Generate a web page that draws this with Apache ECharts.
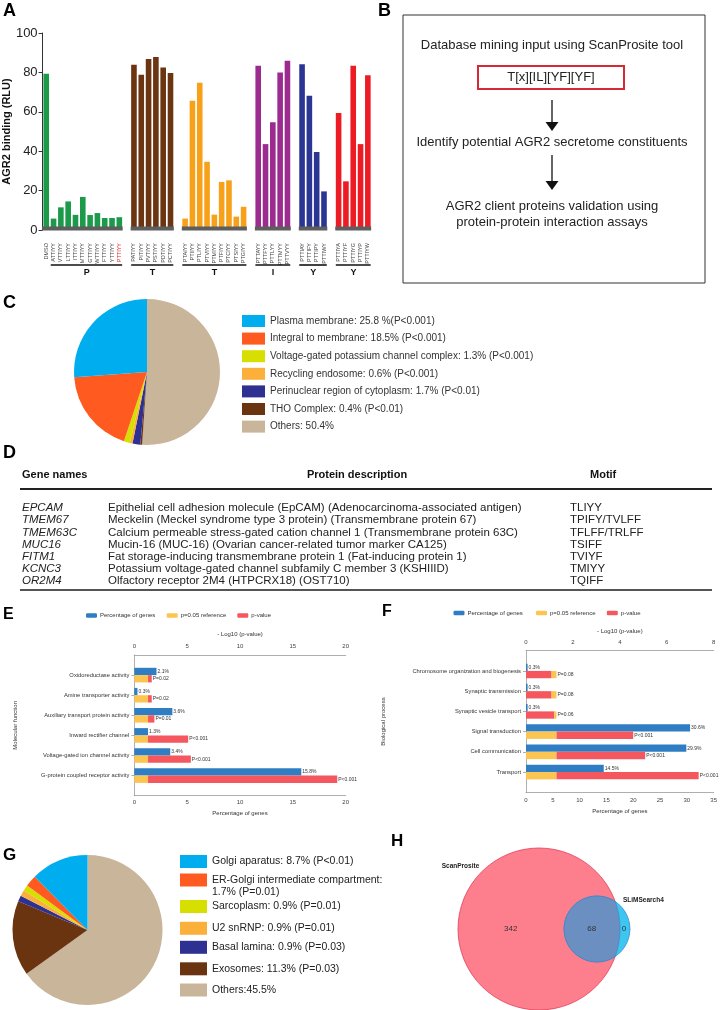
<!DOCTYPE html>
<html><head><meta charset="utf-8">
<script src="https://cdn.jsdelivr.net/npm/echarts@6/dist/echarts.min.js"></script>
<style>html,body{margin:0;padding:0;background:#fff}#c{width:720px;height:1010px}</style>
</head><body><div id="c"></div>
<script>
// ================= DATA =================
// Panel A
const aControlLabel = 'DMSO';
const aControlValue = 79.3;
const aGroupNames = ['P', 'T', 'T', 'I', 'Y', 'Y'];
const aGroupLabels = [
  ['ATTIYY','VTTIYY','LTTIYY','ITTIYY','MTTIYY','GTTIYY','WTTIYY','FTTIYY','YTTIYY','PTTIYY'],
  ['PATIYY','PITIYY','PVTIYY','PSTIYY','PDTIYY','PCTIYY'],
  ['PTAIYY','PTIIYY','PTLIYY','PTVIYY','PTMIYY','PTFIYY','PTCIYY','PTSIYY','PTGIYY'],
  ['PTTAYY','PTTFYY','PTTLYY','PTTMYY','PTTVYY'],
  ['PTTIAY','PTTIFY','PTTIPY','PTTIWY'],
  ['PTTIYA','PTTIYF','PTTIYG','PTTIYP','PTTIYW']
];
const aGroupValues = [
  [5.8, 11.5, 14.5, 7.7, 16.8, 7.6, 8.6, 6.1, 6.1, 6.5],
  [83.9, 78.8, 86.8, 87.8, 82.5, 79.7],
  [5.8, 65.6, 74.7, 34.6, 7.8, 24.4, 25.2, 6.8, 11.8],
  [83.4, 43.6, 54.7, 80.0, 85.9],
  [84.2, 68.1, 39.6, 19.6],
  [59.4, 24.7, 83.4, 43.6, 78.6]
];
const aHighlightLabel = 'PTTIYY';

// Panel C
const cLegend = ['Plasma membrane: 25.8 %(P<0.001)', 'Integral to membrane: 18.5% (P<0.001)',
  'Voltage-gated potassium channel complex: 1.3% (P<0.001)', 'Recycling endosome: 0.6% (P<0.001)',
  'Perinuclear region of cytoplasm: 1.7% (P<0.01)', 'THO Complex: 0.4% (P<0.01)', 'Others: 50.4%'];
const cValues = [25.8, 18.5, 1.3, 0.6, 1.7, 0.4, 50.4];

// Panel D
const dHeaders = ['Gene names', 'Protein description', 'Motif'];
const dGenes = ['EPCAM', 'TMEM67', 'TMEM63C', 'MUC16', 'FITM1', 'KCNC3', 'OR2M4'];
const dDescriptions = [
  'Epithelial cell adhesion molecule (EpCAM) (Adenocarcinoma-associated antigen)',
  'Meckelin (Meckel syndrome type 3 protein) (Transmembrane protein 67)',
  'Calcium permeable stress-gated cation channel 1 (Transmembrane protein 63C)',
  'Mucin-16 (MUC-16) (Ovarian cancer-related tumor marker CA125)',
  'Fat storage-inducing transmembrane protein 1 (Fat-inducing protein 1)',
  'Potassium voltage-gated channel subfamily C member 3 (KSHIIID)',
  'Olfactory receptor 2M4 (HTPCRX18) (OST710)'];
const dMotifs = ['TLIYY', 'TPIFY/TVLFF', 'TFLFF/TRLFF', 'TSIFF', 'TVIYF', 'TMIYY', 'TQIFF'];

// Panels E / F
const efLegend = ['Percentage of genes', 'p=0.05 reference', 'p-value'];
const pRef = 1.3; // -log10(0.05)
const eCategories = ['Oxidoreductase activity', 'Amine transporter activity', 'Auxiliary transport protein activity',
  'Inward rectifier channel', 'Voltage-gated ion channel activity', 'G-protein coupled receptor activity'];
const ePercent = [2.1, 0.3, 3.6, 1.3, 3.4, 15.8];
const eLogP = [1.65, 1.65, 1.9, 5.1, 5.35, 19.2];
const ePLabels = ['P=0.02', 'P=0.02', 'P=0.01', 'P<0.001', 'P<0.001', 'P<0.001'];
const fCategories = ['Chromosome organization and biogenesis', 'Synaptic transmission', 'Synaptic vesicle transport',
  'Signal transduction', 'Cell communication', 'Transport'];
const fPercent = [0.3, 0.3, 0.3, 30.6, 29.9, 14.5];
const fLogP = [1.09, 1.09, 1.2, 4.57, 5.08, 7.36];
const fPLabels = ['P=0.08', 'P=0.08', 'P=0.06', 'P<0.001', 'P<0.001', 'P<0.001'];

// Panel G
const gLegend = ['Golgi aparatus: 8.7% (P<0.01)', 'ER-Golgi intermediate compartment:\n1.7% (P=0.01)',
  'Sarcoplasm: 0.9% (P=0.01)', 'U2 snRNP: 0.9% (P=0.01)', 'Basal lamina: 0.9% (P=0.03)',
  'Exosomes: 11.3% (P=0.03)', 'Others:45.5%'];
const gValues = [8.7, 1.7, 0.9, 0.9, 0.9, 11.3, 45.5];

// Panel H
const hSetNames = ['ScanProsite', 'SLiMSearch4'];
const hCounts = [342, 68, 0]; // only A, both, only B

// ================= STYLE =================
const FONT = "'Liberation Sans', Arial, Helvetica, sans-serif";
const aColors = ['#1b9a49', '#6b3511', '#f7a11a', '#9c2b8f', '#2b3593', '#ed1c24'];
const pieColors = ['#00adef', '#ff5a1f', '#d6df00', '#fbb03b', '#2e3192', '#6b3410', '#c8b59a'];
const BLUE = '#2f7ec4', YELLOW = '#fcc451', RED = '#f5575e';

// ================= BUILD =================
const aCats = [aControlLabel];
const aData = [{value: aControlValue, itemStyle: {color: aColors[0]}}];
const aGroupIdx = [];
aGroupLabels.forEach((labels, g) => {
  if (g > 0) { aCats.push(''); aData.push('-'); }
  const start = aCats.length;
  labels.forEach((l, i) => { aCats.push(l); aData.push({value: aGroupValues[g][i], itemStyle: {color: aColors[g]}}); });
  aGroupIdx.push([start, aCats.length - 1]);
});

const pad = arr => ['-'].concat(arr, ['-']);
const padCat = arr => [' '].concat(arr, ['  ']);
function segs(logp) {
  const s1 = logp.map(v => ({value: Math.min(v, pRef), itemStyle: {color: v < pRef ? RED : YELLOW}}));
  const s2 = logp.map(v => ({value: Math.abs(v - pRef), itemStyle: {color: v < pRef ? YELLOW : RED}}));
  return [pad(s1), pad(s2)];
}
const [eS1, eS2] = segs(eLogP);
const [fS1, fS2] = segs(fLogP);

function valAxis(grid, pos, max, interval, name, margin, nameGap) {
  return {gridIndex: grid, type: 'value', position: pos, min: 0, max: max, interval: interval,
    axisLine: {show: true, lineStyle: {color: '#9a9a9a', width: 0.8}}, axisTick: {show: false},
    splitLine: {show: false},
    axisLabel: {fontSize: 6, color: '#444', margin: margin},
    name: name, nameLocation: 'middle', nameGap: nameGap, nameTextStyle: {fontSize: 6, color: '#333'}};
}
function catAxis(grid, cats, name, nameGap) {
  const n = cats.length + 2;
  return {gridIndex: grid, type: 'category', data: padCat(cats), inverse: true, boundaryGap: false,
    axisLine: {show: true, lineStyle: {color: '#9a9a9a', width: 0.8}},
    axisTick: {show: true, length: 3, interval: (i) => i > 0 && i < n - 1, lineStyle: {color: '#9a9a9a', width: 0.8}},
    axisLabel: {fontSize: 5.8, color: '#333', margin: 5, interval: 0},
    name: name, nameLocation: 'middle', nameGap: nameGap, nameTextStyle: {fontSize: 6, color: '#333'}};
}
function efSeries(xi0, xi1, yi, pct, s1, s2, plabels, stackId) {
  return [
    {type: 'bar', name: efLegend[0], xAxisIndex: xi0, yAxisIndex: yi, data: pad(pct), barWidth: 7.3, barGap: '0%',
      itemStyle: {color: BLUE}, silent: true,
      label: {show: true, position: 'right', distance: 1, fontSize: 5, color: '#333', formatter: p => p.value + '%'}},
    {type: 'bar', xAxisIndex: xi1, yAxisIndex: yi, stack: stackId, data: s1, barWidth: 7.3, silent: true},
    {type: 'bar', xAxisIndex: xi1, yAxisIndex: yi, stack: stackId, data: s2, barWidth: 7.3, silent: true,
      label: {show: true, position: 'right', distance: 1, fontSize: 5, color: '#333', formatter: p => plabels[p.dataIndex - 1]}}
  ];
}

const option = {
  animation: false,
  textStyle: {fontFamily: FONT},
  grid: [
    {left: 38.5, top: 33, width: 333, height: 197},
    {left: 134.3, top: 655, width: 211.4, height: 140.7},
    {left: 526, top: 650.7, width: 189, height: 141.6}
  ],
  xAxis: [
    {gridIndex: 0, type: 'category', data: aCats, axisLine: {show: false}, axisTick: {show: false},
      axisLabel: {rotate: 90, interval: 0, fontSize: 5.5, color: '#444', margin: 13,
        formatter: v => v === aHighlightLabel ? '{hl|' + v + '}' : v,
        rich: {hl: {color: '#ec1c24', fontSize: 5.5}}}},
    valAxis(1, 'bottom', 20, 5, 'Percentage of genes', 3.3, 14.6),
    valAxis(1, 'top', 20, 5, '- Log10 (p-value)', 6, 18),
    valAxis(2, 'bottom', 35, 5, 'Percentage of genes', 5, 15.7),
    valAxis(2, 'top', 8, 2, '- Log10 (p-value)', 5, 16)
  ],
  yAxis: [
    {gridIndex: 0, type: 'value', min: 0, max: 100, interval: 20,
      axisLine: {show: true, lineStyle: {color: '#333', width: 1}},
      axisTick: {show: true, length: 4, lineStyle: {color: '#333'}},
      splitLine: {show: false},
      axisLabel: {fontSize: 13, color: '#222', margin: 5},
      name: 'AGR2 binding (RLU)', nameLocation: 'middle', nameGap: 18.5,
      nameTextStyle: {fontSize: 11, fontWeight: 'bold', color: '#111'}},
    catAxis(1, eCategories, 'Molecular function', 116),
    catAxis(2, fCategories, 'Biological process', 140)
  ],
  series: [
    {type: 'bar', xAxisIndex: 0, yAxisIndex: 0, data: aData, barWidth: 5.6, silent: true},
    ...efSeries(1, 2, 1, ePercent, eS1, eS2, ePLabels, 'e'),
    ...efSeries(3, 4, 2, fPercent, fS1, fS2, fPLabels, 'f'),
    {type: 'pie', center: [147, 372], radius: 73, startAngle: 90, clockwise: true, silent: true,
      label: {show: false}, labelLine: {show: false},
      data: cLegend.map((n, i) => ({name: n, value: cValues[i], itemStyle: {color: pieColors[i]}})).reverse()},
    {type: 'pie', center: [87.5, 930], radius: 75, startAngle: 90, clockwise: true, silent: true,
      label: {show: false}, labelLine: {show: false},
      data: gLegend.map((n, i) => ({name: n, value: gValues[i], itemStyle: {color: pieColors[i]}})).reverse()}
  ]
};

const chart = echarts.init(document.getElementById('c'), null, {renderer: 'canvas', width: 720, height: 1010});
chart.setOption(option);

// ================= GRAPHIC (annotations) =================
const G = [];
function T(text, x, y, o) {
  G.push({type: 'text', x: x, y: y, silent: true, z: 30,
    style: Object.assign({text: text, fill: '#222', fontSize: 11, fontFamily: FONT,
      textAlign: 'left', textVerticalAlign: 'middle'}, o || {})});
}
function L(x1, y1, x2, y2, color, w, z) {
  G.push({type: 'line', silent: true, z: z || 20, shape: {x1: x1, y1: y1, x2: x2, y2: y2},
    style: {stroke: color, lineWidth: w}});
}
function R(x, y, w, h, fill, stroke, lw, r) {
  G.push({type: 'rect', silent: true, z: 20, shape: {x: x, y: y, width: w, height: h, r: r || 0},
    style: {fill: fill || 'none', stroke: stroke || 'none', lineWidth: lw || 0}});
}
// panel letters
const letter = (t, x, y, s) => T(t, x, y, {fontSize: s || 18, fontWeight: 'bold', fill: '#000', textVerticalAlign: 'top'});
letter('A', 3, 2); letter('B', 378, 2); letter('C', 3, 294); letter('D', 3, 444);
letter('E', 3, 607, 16); letter('F', 382, 604, 16); letter('G', 3, 847, 17); letter('H', 391, 833, 17);

// Panel A: baseline, group underlines, group letters
const y0 = chart.convertToPixel({yAxisIndex: 0}, 0);
const half = 2.8;
aGroupIdx.forEach((rg, g) => {
  const s = g === 0 ? 0 : rg[0];
  const xs = chart.convertToPixel({xAxisIndex: 0}, s) - half - 0.5;
  const xe = chart.convertToPixel({xAxisIndex: 0}, rg[1]) + half + 0.5;
  L(g === 0 ? xs - 1 : xs, y0 - 1.5, xe, y0 - 1.5, '#5e5e5e', 4, 30);
  const us = chart.convertToPixel({xAxisIndex: 0}, rg[0]) - half;
  L(us, 265, xe - 0.5, 265, '#111', 1.6);
  T(aGroupNames[g], (us + xe) / 2, 273, {fontSize: 9, fontWeight: 'bold', textAlign: 'center', fill: '#111'});
});

// Panel B flowchart
R(403, 15, 302, 268, 'none', '#333', 1);
T('Database mining input using ScanProsite tool', 552, 45, {fontSize: 13, textAlign: 'center'});
R(478, 66, 146, 23, 'none', '#d42a33', 2);
T('T[x][IL][YF][YF]', 551, 77.5, {fontSize: 13, textAlign: 'center'});
function arrow(x, ya, yb) {
  L(x, ya, x, yb - 8, '#111', 1.3);
  G.push({type: 'polygon', silent: true, z: 20, shape: {points: [[x - 6.5, yb - 9], [x + 6.5, yb - 9], [x, yb]]}, style: {fill: '#111'}});
}
arrow(552, 100, 131);
T('Identify potential AGR2 secretome constituents', 552, 142, {fontSize: 13, textAlign: 'center'});
arrow(552, 155, 190);
T('AGR2 client proteins validation using', 552, 206, {fontSize: 13, textAlign: 'center'});
T('protein-protein interaction assays', 552, 222, {fontSize: 13, textAlign: 'center'});

// Panel C legend
const cRowY = [321, 338.6, 356.2, 373.8, 391.4, 409, 426.6];
cLegend.forEach((t, i) => {
  R(242, cRowY[i] - 6, 23, 12, pieColors[i]);
  T(t, 270, cRowY[i], {fontSize: 10, fill: '#333'});
});

// Panel D table
const dColX = [22, 108, 570];
T(dHeaders[0], dColX[0], 475, {fontSize: 11, fontWeight: 'bold', fill: '#111'});
T(dHeaders[1], 357, 475, {fontSize: 11, fontWeight: 'bold', fill: '#111', textAlign: 'center'});
T(dHeaders[2], 590, 475, {fontSize: 11, fontWeight: 'bold', fill: '#111'});
L(20, 489, 712, 489, '#222', 2);
dGenes.forEach((g, i) => {
  const y = 508 + i * 12.2;
  T(g, dColX[0], y, {fontSize: 11.5, fontStyle: 'italic', fill: '#222'});
  T(dDescriptions[i], dColX[1], y, {fontSize: 11.5, fill: '#222'});
  T(dMotifs[i], dColX[2], y, {fontSize: 11.5, fill: '#222'});
});
L(20, 590, 712, 590, '#555', 1.8);

// Panels E / F legends
function efLeg(xs, y) {
  const cols = [BLUE, YELLOW, RED];
  xs.forEach((x, i) => {
    R(x, y - 2.3, 11, 4.6, cols[i], null, 0, 1.2);
    T(efLegend[i], x + 14, y, {fontSize: 6, fill: '#333'});
  });
}
efLeg([86, 166.7, 237.3], 615.5);
efLeg([453.5, 536, 606.8], 613);

// Panel G legend
const gSqY = [861.5, 880, 906.5, 928.3, 947.3, 968.8, 990];
gLegend.forEach((t, i) => {
  R(180, gSqY[i] - 6.5, 27, 13, pieColors[i]);
  const lines = t.split('\n');
  lines.forEach((ln, k) => T(ln, 212, gSqY[i] + k * 12, {fontSize: 10.5, fill: '#222'}));
});

// Panel H Venn (area proportional to set sizes)
const k = 4.0;
const rA = k * Math.sqrt(hCounts[0] + hCounts[1]);
const rB = k * Math.sqrt(hCounts[1] + hCounts[2]);
const cA = {x: 539, y: 929}, cB = {x: 597, y: 929};
G.push({type: 'circle', silent: true, z: 20, shape: {cx: cA.x, cy: cA.y, r: rA}, style: {fill: '#fd7f8e', stroke: '#e23c55', lineWidth: 0.8}});
G.push({type: 'circle', silent: true, z: 21, shape: {cx: cB.x, cy: cB.y, r: rB}, style: {fill: '#3dc6f0', stroke: '#3a8ad0', lineWidth: 0.8}});
(function lens() {
  const d = cB.x - cA.x;
  const a = (d * d + rA * rA - rB * rB) / (2 * d);
  const h = Math.sqrt(rA * rA - a * a);
  const th2 = Math.atan2(h, cA.x + a - cB.x), th1 = Math.atan2(h, a);
  const pts = [], n = 80;
  for (let i = 0; i <= n; i++) { const t = th2 + (2 * Math.PI - 2 * th2) * i / n; pts.push([cB.x + rB * Math.cos(t), cB.y + rB * Math.sin(t)]); }
  for (let i = 0; i <= n; i++) { const t = -th1 + 2 * th1 * i / n; pts.push([cA.x + rA * Math.cos(t), cA.y + rA * Math.sin(t)]); }
  G.push({type: 'polygon', silent: true, z: 22, shape: {points: pts}, style: {fill: '#6b8fc1', stroke: '#3b7fc6', lineWidth: 0.6}});
})();
T(hSetNames[0], 441.7, 866, {fontSize: 6.5, fontWeight: 'bold', fill: '#222'});
T(hSetNames[1], 623, 900.7, {fontSize: 6.5, fontWeight: 'bold', fill: '#222'});
T(String(hCounts[0]), 510.7, 929, {fontSize: 8, textAlign: 'center', fill: '#333'});
T(String(hCounts[1]), 591.7, 929, {fontSize: 8, textAlign: 'center', fill: '#333'});
T(String(hCounts[2]), 624, 929, {fontSize: 8, textAlign: 'center', fill: '#333'});

chart.setOption({graphic: {elements: G}});
</script>
</body></html>
